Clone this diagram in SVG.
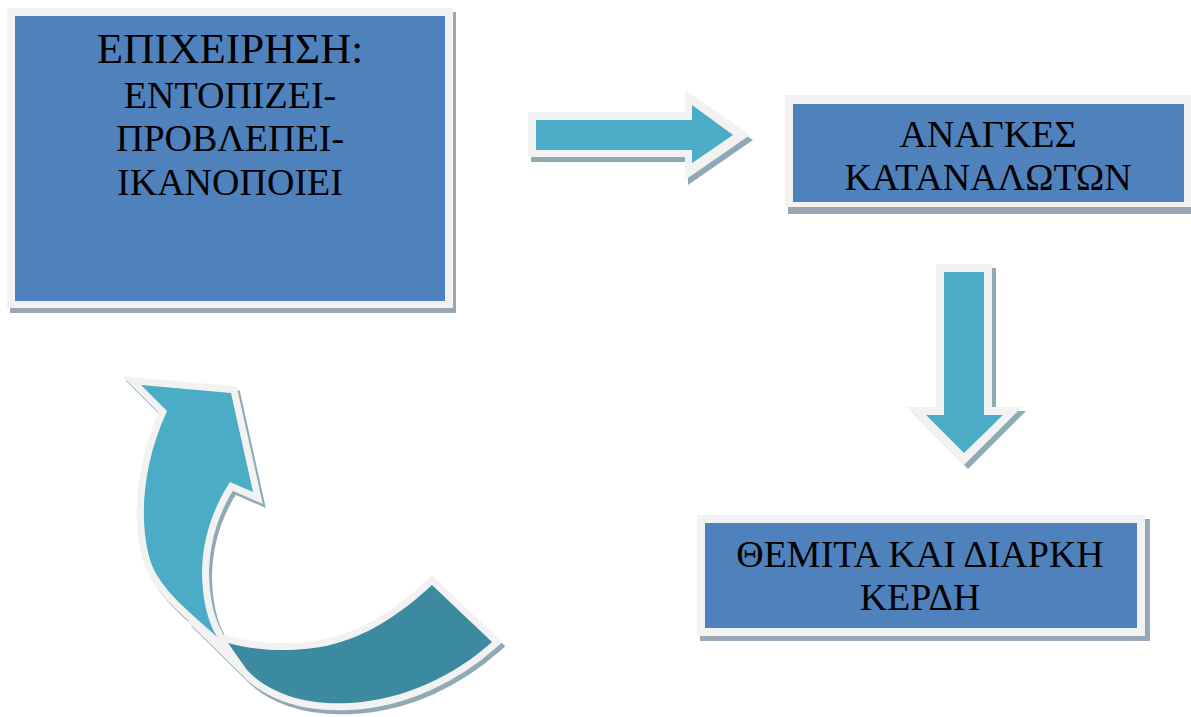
<svg xmlns="http://www.w3.org/2000/svg" width="1191" height="717" viewBox="0 0 1191 717">
<style>
.frame{fill:#f2f2f2}
.box{fill:#4f81bd}
.bshadow{fill:#98a6b6}
.ashadow{fill:#8faab5}
.arrow{fill:#4bacc6}
.dark{fill:#3c8aa0}
.txt{font-family:"Liberation Serif","Times New Roman",serif;fill:#000;text-anchor:middle}
.cshadow{fill:#8faab5;stroke:#8faab5;stroke-width:14;stroke-linejoin:miter;stroke-miterlimit:5}
.cframe{stroke:#f2f2f2;stroke-width:14;stroke-linejoin:miter;stroke-miterlimit:5}
</style>
<defs>
<path id="curveLight" d="M141,385 L231,393 L253,492 L230,482 C215,505 203,535 202,570 C202,600 208,622 217,637 C190,612 160,590 150,560 C140,525 140,470 167,411 Z"/>
<path id="curveDark" d="M228,643 C260,652 300,652 330,645 C365,637 400,615 432,585 L492,642 C455,675 405,700 350,703 C300,706 265,690 247,670 Z"/>
<polygon id="curveJoin" points="193,617 217,637 228,643 247,670 241,674 188,622"/>
</defs>

<g id="node-epixeirisi">
<rect class="bshadow" x="10" y="12" width="446" height="301"/>
<rect class="frame" x="7" y="8" width="446" height="300"/>
<rect class="box" x="15" y="16" width="430" height="285"/>
<text class="txt" x="230" y="63" font-size="43">ΕΠΙΧΕΙΡΗΣΗ:</text>
<text class="txt" x="230" y="108" font-size="38">ΕΝΤΟΠΙΖΕΙ-</text>
<text class="txt" x="230" y="151" font-size="38">ΠΡΟΒΛΕΠΕΙ-</text>
<text class="txt" x="230" y="195" font-size="38">ΙΚΑΝΟΠΟΙΕΙ</text>
</g>

<g id="node-anagkes">
<rect class="bshadow" x="788" y="100" width="406" height="114"/>
<rect class="frame" x="785" y="95" width="406" height="112"/>
<rect class="box" x="793" y="104" width="391" height="98"/>
<text class="txt" x="988" y="147" font-size="38">ΑΝΑΓΚΕΣ</text>
<text class="txt" x="988" y="190" font-size="38">ΚΑΤΑΝΑΛΩΤΩΝ</text>
</g>

<g id="node-kerdi">
<rect class="bshadow" x="700" y="519" width="450" height="122"/>
<rect class="frame" x="697" y="515" width="448" height="121"/>
<rect class="box" x="705" y="523" width="432" height="105"/>
<text class="txt" x="920" y="567" font-size="38">ΘΕΜΙΤΑ ΚΑΙ ΔΙΑΡΚΗ</text>
<text class="txt" x="920" y="610" font-size="38">ΚΕΡΔΗ</text>
</g>

<g id="connectors">
<g id="arrow-right">
<polygon class="ashadow" transform="translate(3,5)" points="528,112 685,112 685,90 750,135 685,180 685,157 528,157"/>
<polygon class="frame" points="528,112 685,112 685,90 750,135 685,180 685,157 528,157"/>
<polygon class="arrow" points="536,120 692,120 692,105 733,135 692,163 692,150 536,150"/>
</g>
<g id="arrow-down">
<polygon class="ashadow" transform="translate(4,4)" points="936,264 992,264 992,407 1022,407 964,465 907,407 936,407"/>
<polygon class="frame" points="936,264 992,264 992,407 1022,407 964,465 907,407 936,407"/>
<polygon class="arrow" points="944,272 984,272 984,415 1003,415 964,453 926,415 944,415"/>
</g>
<g id="arrow-curved">
<use href="#curveLight" class="cshadow" transform="translate(3,4)"/>
<use href="#curveDark" class="cshadow" transform="translate(3,4)"/>
<use href="#curveJoin" class="ashadow" transform="translate(3,4)"/>
<use href="#curveLight" class="cframe" fill="#f2f2f2"/>
<use href="#curveDark" class="cframe" fill="#f2f2f2"/>
<use href="#curveJoin" class="frame"/>
<use href="#curveLight" class="arrow"/>
<use href="#curveDark" class="dark"/>
</g>
</g>
</svg>
